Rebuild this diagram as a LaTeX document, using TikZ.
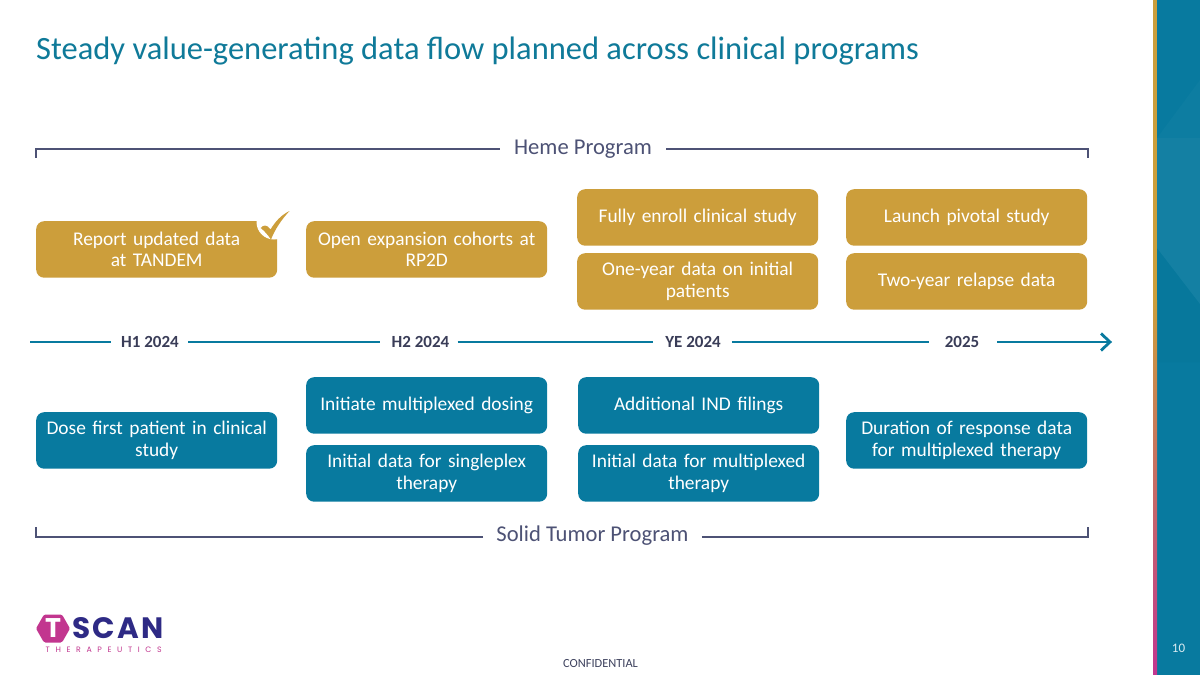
\documentclass[tikz,border=0pt]{standalone}
\usepackage{fontspec}
\setmainfont{Carlito}
\newfontfamily\logofont{Poppins}
\definecolor{goldc}{HTML}{CC9E3B}
\definecolor{tealc}{HTML}{087A9F}
\definecolor{titlec}{HTML}{0F7A99}
\definecolor{brk}{HTML}{4D5275}
\definecolor{magc}{HTML}{C2368F}
\definecolor{navyc}{HTML}{2E2A85}
\tikzset{
  x=1pt,y=-1pt,
  pbox/.style={rounded corners=8pt,minimum width=241pt,minimum height=56.5pt,text width=230pt,align=center,
    text=white,font=\fontsize{19.4}{21.5}\selectfont,inner sep=0pt,anchor=north west},
  goldbox/.style={pbox,fill=goldc},
  tealbox/.style={pbox,fill=tealc},
  bracket/.style={draw=brk,line width=1.15pt},
  proglabel/.style={text=brk,font=\fontsize{22.6}{25}\selectfont,inner sep=0pt,anchor=center},
  period/.style={text=brk!75!black,font=\bfseries\fontsize{17}{18}\selectfont,inner sep=0pt,anchor=center},
  tline/.style={draw=tealc,line width=2.6pt},
}
\begin{document}
\begin{tikzpicture}
\useasboundingbox (0,0) rectangle (1200,675);
\fill[white] (0,0) rectangle (1200,675);
% side band
\fill[tealc] (1157,0) rectangle (1200,675);
\fill[white,opacity=.025] (1157,138) -- (1200,80) -- (1200,138) -- cycle;
\fill[white,opacity=.05] (1157,138) -- (1200,138) -- (1200,304) -- (1157,248) -- cycle;
\fill[black,opacity=.015] (1157,248) -- (1200,304) -- (1200,362) -- (1157,362) -- cycle;
\fill[goldc] (1153,0) rectangle (1157,300);
\shade[top color=goldc,bottom color=magc] (1153,300) rectangle (1157,675);
\node[inner sep=0pt,text=white!85!tealc,font=\fontsize{13}{14}\selectfont] (pagenum) at (1178.5,648) {10};
% title
\node[inner sep=0pt,anchor=west,text=titlec,font=\fontsize{32.5}{35}\selectfont] (title) at (36,51) {Steady value-generating data flow planned across clinical programs};
% heme bracket
\node[proglabel] (heme) at (583,149) {Heme Program};
\coordinate (hl) at (36,158);
\coordinate (hr) at (1088,158);
\draw[bracket] (heme.west) ++(-14,0) -| (hl);
\draw[bracket] (heme.east) ++(14,0) -| (hr);
% solid bracket
\node[proglabel] (solid) at (592.5,536) {Solid Tumor Program};
\coordinate (sl) at (36,527);
\coordinate (sr) at (1088,527);
\draw[bracket] (solid.west) ++(-13,1) -| (sl);
\draw[bracket] (solid.east) ++(13,1) -| (sr);
% gold boxes
\node[goldbox] (report) at (36,221) {Report updated data\\at TANDEM};
\node[goldbox] (open) at (306,221) {Open expansion cohorts at\\RP2D};
\node[goldbox] (fully) at (577,189) {Fully enroll clinical study};
\node[goldbox] (launch) at (846,189) {Launch pivotal study};
\node[goldbox] (oneyear) at (577,253) {One-year data on initial\\patients};
\node[goldbox] (twoyear) at (846,253) {Two-year relapse data};
% check mark
\fill[white] (274,222) circle (17.5);
\fill[goldc] (260.7,228) .. controls (263,225) and (267,224) .. (270.5,229.5)
  .. controls (275,222) and (281,215) .. (289.5,211)
  .. controls (282,219) and (275,229) .. (271,239.5)
  .. controls (268,235) and (264.5,231) .. (260.7,228) -- cycle;
% timeline
\node[period] (h1) at (150,342) {H1 2024};
\node[period] (h2) at (420.5,342) {H2 2024};
\node[period] (ye) at (693,342) {YE 2024};
\node[period] (y25) at (962,342) {2025};
\coordinate (tstart) at (30,342);
\coordinate (tend) at (1110,342);
\draw[tline] (tstart) -- ([xshift=-10pt]h1.west);
\draw[tline] ([xshift=9pt]h1.east) -- ([xshift=-11pt]h2.west);
\draw[tline] ([xshift=8pt]h2.east) -- ([xshift=-12pt]ye.west);
\draw[tline] ([xshift=11pt]ye.east) -- ([xshift=-16pt]y25.west);
\draw[tline] ([xshift=18pt]y25.east) -- (tend);
\draw[tealc,line width=2.8pt] (1101,333.5) -- (1110,342) -- (1101,350.5);
% teal boxes
\node[tealbox] (dose) at (36,412) {Dose first patient in clinical\\study};
\node[tealbox] (initiate) at (306,377) {Initiate multiplexed dosing};
\node[tealbox] (single) at (306,445) {Initial data for singleplex\\therapy};
\node[tealbox] (addl) at (578,377) {Additional IND filings};
\node[tealbox] (multi) at (578,445) {Initial data for multiplexed\\therapy};
\node[tealbox] (dura) at (846,412) {Duration of response data\\for multiplexed therapy};
% logo
\fill[magc,rounded corners=1.5pt] (36,628.5) -- (44,614.5) -- (62,614.5) -- (70,628.5) -- (62,642.5) -- (44,642.5) -- cycle;
\node[inner sep=0pt,text=white,font=\logofont\bfseries\fontsize{27}{27}\selectfont] (logot) at (53,628.5) {T};
\node[inner sep=0pt,anchor=west,text=navyc,font=\logofont\fontsize{29.5}{30}\selectfont\bfseries\addfontfeatures{LetterSpace=7.5}] (logoscan) at (72,628.5) {SCAN};
\node[inner sep=0pt,anchor=west,text=magc,font=\logofont\fontsize{7.8}{8}\selectfont\addfontfeatures{LetterSpace=72}] (logother) at (45.5,650) {THERAPEUTICS};
% footer
\node[inner sep=0pt,text=brk!80!black,font=\fontsize{12.4}{14}\selectfont] (conf) at (600.5,664) {CONFIDENTIAL};
\end{tikzpicture}
\end{document}
